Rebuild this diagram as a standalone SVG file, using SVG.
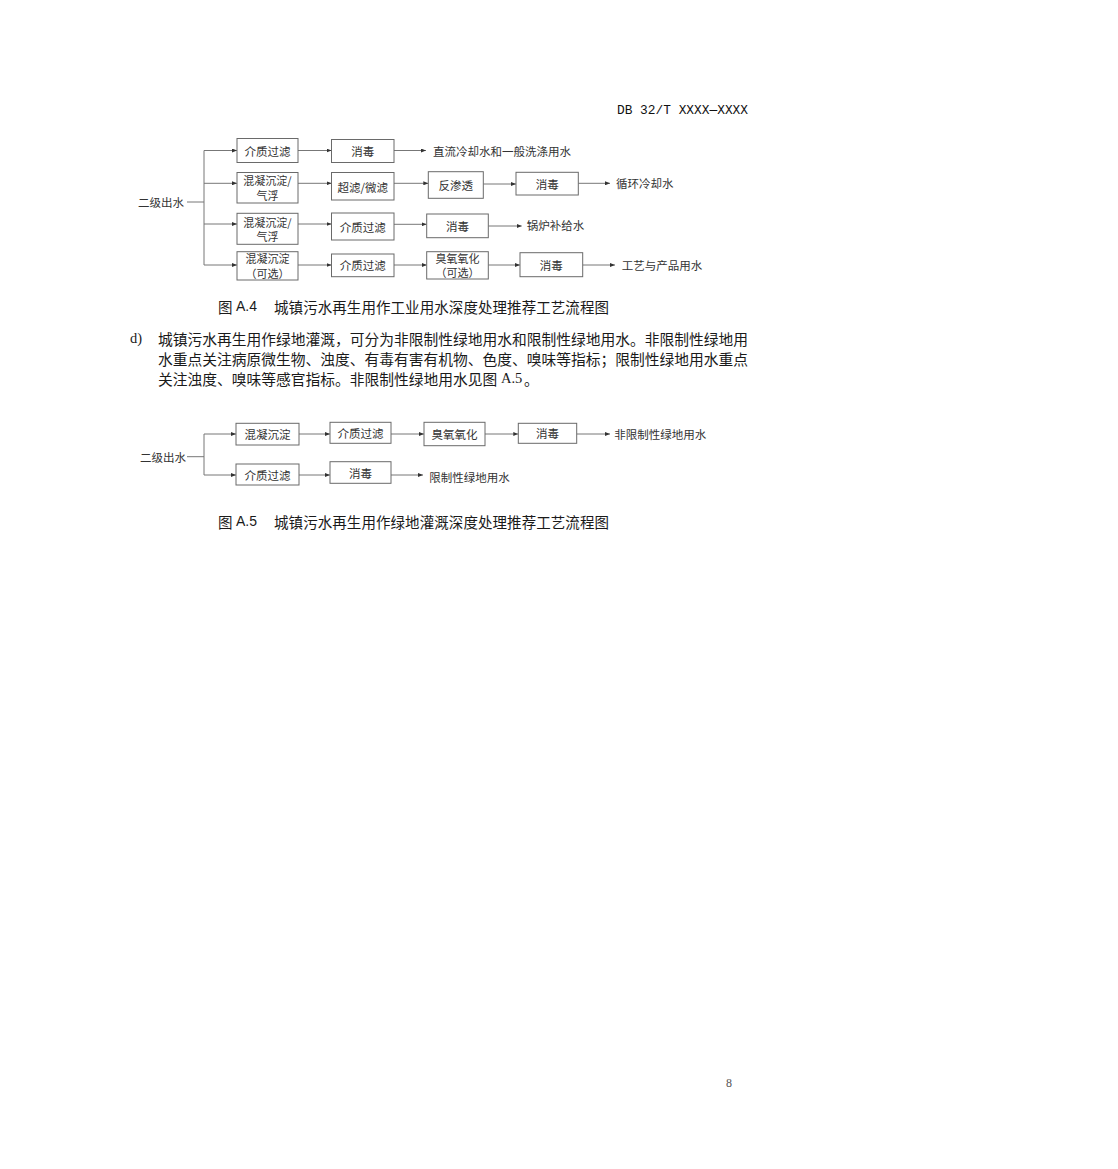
<svg xmlns="http://www.w3.org/2000/svg" width="1118" height="1169" viewBox="0 0 1118 1169">
<style>
.bg{fill:#ffffff}
.box{fill:#ffffff;stroke:#6a6a6a;stroke-width:1}
.t{font-family:"Noto Sans CJK SC","Liberation Serif",sans-serif;font-size:11.5px;fill:#333333;text-anchor:middle;dominant-baseline:central}
.t2{font-family:"Noto Sans CJK SC","Liberation Serif",sans-serif;font-size:11px;fill:#333333;text-anchor:middle;dominant-baseline:central}
.lbl{font-family:"Noto Sans CJK SC","Liberation Serif",sans-serif;font-size:11.5px;fill:#333333;dominant-baseline:central}
.ln{fill:none;stroke:#777777;stroke-width:1}
.cap{font-family:"Noto Sans CJK SC",sans-serif;font-size:14.5px;fill:#1a1a1a;dominant-baseline:central}
.capm{font-family:"Liberation Sans",sans-serif;font-size:14px;fill:#1a1a1a}
.para{font-family:"Noto Sans CJK SC","Liberation Serif",sans-serif;font-size:14.75px;fill:#1a1a1a;dominant-baseline:central}
.paral{font-family:"Liberation Serif",serif;font-size:14.5px;fill:#1a1a1a}
.hdr{font-family:"Liberation Mono",monospace;font-size:12px;fill:#111111}
.pg{font-family:"Liberation Serif",serif;font-size:12px;fill:#555555}
</style>
<defs>
<marker id="arr" markerUnits="userSpaceOnUse" markerWidth="5" markerHeight="4" refX="5" refY="2" orient="auto">
<path d="M0,0 L5,2 L0,4 z" fill="#333333"/>
</marker>
</defs>
<rect class="bg" x="0" y="0" width="1118" height="1169"/>

<text class="hdr" x="617" y="114" textLength="131" lengthAdjust="spacingAndGlyphs">DB 32/T XXXX—XXXX</text>

<!-- Figure A.4 -->
<g id="connectors-a4">
<path class="ln" d="M187,202 H204 M204,150.5 V265"/>
<path class="ln" marker-end="url(#arr)" d="M204,150.5 H237"/>
<path class="ln" marker-end="url(#arr)" d="M298,150.5 H331.5"/>
<path class="ln" marker-end="url(#arr)" d="M394,150.5 H426"/>
<path class="ln" marker-end="url(#arr)" d="M204,183.3 H237"/>
<path class="ln" marker-end="url(#arr)" d="M298,183.3 H331.5"/>
<path class="ln" marker-end="url(#arr)" d="M394,183.3 H428.3"/>
<path class="ln" marker-end="url(#arr)" d="M483.3,184 H516"/>
<path class="ln" marker-end="url(#arr)" d="M578.3,183.3 H610"/>
<path class="ln" marker-end="url(#arr)" d="M204,224 H237"/>
<path class="ln" marker-end="url(#arr)" d="M298,224 H331.5"/>
<path class="ln" marker-end="url(#arr)" d="M394,224.3 H426.7"/>
<path class="ln" marker-end="url(#arr)" d="M488.3,226 H521.7"/>
<path class="ln" marker-end="url(#arr)" d="M204,265 H237"/>
<path class="ln" marker-end="url(#arr)" d="M298,265 H331.5"/>
<path class="ln" marker-end="url(#arr)" d="M394,265 H426.7"/>
<path class="ln" marker-end="url(#arr)" d="M488.3,265 H520"/>
<path class="ln" marker-end="url(#arr)" d="M582.7,265 H615"/>
</g>
<g id="a4-src"><text class="lbl" x="138" y="202">二级出水</text></g>
<g id="a4-n1"><rect class="box" x="237" y="138.5" width="61" height="24"/><text class="t" x="267.5" y="150.5">介质过滤</text></g>
<g id="a4-n2"><rect class="box" x="331.5" y="139.5" width="62.5" height="23"/><text class="t" x="362.75" y="151">消毒</text></g>
<g id="a4-o1"><text class="lbl" x="433" y="150.5">直流冷却水和一般洗涤用水</text></g>
<g id="a4-n3"><rect class="box" x="237" y="172.5" width="61" height="30.5"/><text class="t2"><tspan x="267.5" y="180.4">混凝沉淀/</tspan><tspan x="267.5" y="194.6">气浮</tspan></text></g>
<g id="a4-n4"><rect class="box" x="331.5" y="172.5" width="62.5" height="27.5"/><text class="t" x="362.75" y="186.5">超滤/微滤</text></g>
<g id="a4-n5"><rect class="box" x="428.3" y="171.7" width="55" height="26.6"/><text class="t" x="455.8" y="185">反渗透</text></g>
<g id="a4-n6"><rect class="box" x="516" y="172.3" width="62.3" height="22.7"/><text class="t" x="547.2" y="183.7">消毒</text></g>
<g id="a4-o2"><text class="lbl" x="616" y="183.3">循环冷却水</text></g>
<g id="a4-n7"><rect class="box" x="237" y="213.3" width="61" height="31"/><text class="t2"><tspan x="267.5" y="221.5">混凝沉淀/</tspan><tspan x="267.5" y="235.7">气浮</tspan></text></g>
<g id="a4-n8"><rect class="box" x="331.5" y="213" width="62.5" height="27"/><text class="t" x="362.75" y="226.5">介质过滤</text></g>
<g id="a4-n9"><rect class="box" x="426.7" y="214" width="61.6" height="23.7"/><text class="t" x="457.5" y="226">消毒</text></g>
<g id="a4-o3"><text class="lbl" x="526.7" y="225">锅炉补给水</text></g>
<g id="a4-n10"><rect class="box" x="237" y="251.7" width="61" height="28.3"/><text class="t2"><tspan x="267.5" y="258.3">混凝沉淀</tspan><tspan x="267.5" y="272.5">（可选）</tspan></text></g>
<g id="a4-n11"><rect class="box" x="331.5" y="254" width="62.5" height="22.7"/><text class="t" x="362.75" y="265.3">介质过滤</text></g>
<g id="a4-n12"><rect class="box" x="426.7" y="251.7" width="61.6" height="27.3"/><text class="t2"><tspan x="457.5" y="258.2">臭氧氧化</tspan><tspan x="457.5" y="272.4">（可选）</tspan></text></g>
<g id="a4-n13"><rect class="box" x="520" y="252.7" width="62.7" height="24"/><text class="t" x="551.3" y="264.7">消毒</text></g>
<g id="a4-o4"><text class="lbl" x="621.7" y="265">工艺与产品用水</text></g>

<g id="cap-a4">
<text class="cap" x="218" y="306">图</text>
<text class="capm" x="236" y="311" textLength="21" lengthAdjust="spacingAndGlyphs">A.4</text>
<text class="cap" x="274" y="306" textLength="335" lengthAdjust="spacing">城镇污水再生用作工业用水深度处理推荐工艺流程图</text>
</g>

<g id="para">
<text class="paral" x="130" y="343">d)</text>
<text class="para" x="158" y="338" textLength="590" lengthAdjust="spacing">城镇污水再生用作绿地灌溉，可分为非限制性绿地用水和限制性绿地用水。非限制性绿地用</text>
<text class="para" x="158" y="358.3" textLength="590" lengthAdjust="spacing">水重点关注病原微生物、浊度、有毒有害有机物、色度、嗅味等指标；限制性绿地用水重点</text>
<text class="para" x="158" y="378">关注浊度、嗅味等感官指标。非限制性绿地用水见图</text>
<text class="paral" x="501" y="383">A.5</text>
<text class="para" x="524" y="378">。</text>
</g>

<!-- Figure A.5 -->
<g id="connectors-a5">
<path class="ln" d="M187,456.7 H204 M204,434 V475"/>
<path class="ln" marker-end="url(#arr)" d="M204,434 H236"/>
<path class="ln" marker-end="url(#arr)" d="M299,434 H330"/>
<path class="ln" marker-end="url(#arr)" d="M391,434 H424"/>
<path class="ln" marker-end="url(#arr)" d="M485,434 H518.3"/>
<path class="ln" marker-end="url(#arr)" d="M576.7,434 H610"/>
<path class="ln" marker-end="url(#arr)" d="M204,475 H236"/>
<path class="ln" marker-end="url(#arr)" d="M299,475 H330"/>
<path class="ln" marker-end="url(#arr)" d="M391,475 H423"/>
</g>
<g id="a5-src"><text class="lbl" x="140" y="456.7">二级出水</text></g>
<g id="a5-m1"><rect class="box" x="236" y="423.3" width="63" height="21.7"/><text class="t" x="267.5" y="434.2">混凝沉淀</text></g>
<g id="a5-m2"><rect class="box" x="330" y="422.3" width="61" height="21"/><text class="t" x="360.5" y="432.8">介质过滤</text></g>
<g id="a5-m3"><rect class="box" x="424" y="422.3" width="61" height="23.4"/><text class="t" x="454.5" y="434">臭氧氧化</text></g>
<g id="a5-m4"><rect class="box" x="518.3" y="423.3" width="58.4" height="20"/><text class="t" x="547.5" y="433.3">消毒</text></g>
<g id="a5-o1"><text class="lbl" x="614.3" y="434">非限制性绿地用水</text></g>
<g id="a5-m5"><rect class="box" x="236" y="464" width="63" height="21"/><text class="t" x="267.5" y="474.5">介质过滤</text></g>
<g id="a5-m6"><rect class="box" x="330" y="461.7" width="61" height="21.6"/><text class="t" x="360.5" y="472.5">消毒</text></g>
<g id="a5-o2"><text class="lbl" x="429.3" y="476.7">限制性绿地用水</text></g>

<g id="cap-a5">
<text class="cap" x="218" y="521">图</text>
<text class="capm" x="236" y="526" textLength="21" lengthAdjust="spacingAndGlyphs">A.5</text>
<text class="cap" x="274" y="521" textLength="335" lengthAdjust="spacing">城镇污水再生用作绿地灌溉深度处理推荐工艺流程图</text>
</g>

<text class="pg" x="726" y="1087">8</text>
</svg>
